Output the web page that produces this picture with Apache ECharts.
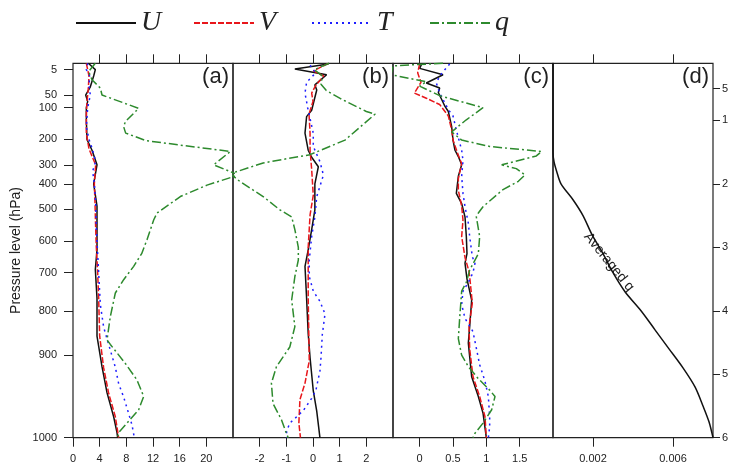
<!DOCTYPE html>
<html>
<head>
<meta charset="utf-8">
<script src="https://cdn.jsdelivr.net/npm/echarts@6/dist/echarts.min.js"></script>
<style>
  html, body { margin: 0; padding: 0; background: #fff; }
  #chart { width: 736px; height: 466px; }
</style>
</head>
<body>
<div id="chart"></div>
<script>
// model levels (1 = top, 60 = surface) with pressure labels on the left axis
const pressureLevels = [2, 6, 8, 13, 17, 20, 24, 29, 34, 40, 47, 60];
const pressureLabels = ["5", "50", "100", "200", "300", "400", "500", "600", "700", "800", "900", "1000"];
const levelTicks = [5, 10, 20, 30, 40, 50, 60];

// x ticks of each panel
const ticksA = [0, 4, 8, 12, 16, 20];
const ticksB = [-2, -1, 0, 1, 2];
const ticksC = [0, 0.5, 1, 1.5];
const ticksD = [0.002, 0.006];

// profiles as [value, level]
// panel (a)
const aU = [[2.3,1],[3.35,2],[3.1,3],[2.6,4.7],[1.9,6],[2.2,7],[2.0,8],[2.0,10],[2.1,13],[2.85,14.7],[3.6,17],[3.1,20],[3.6,23.5],[3.6,27],[3.6,30.4],[3.35,33.5],[3.6,38],[3.6,44],[4.35,48.8],[5.1,52.9],[6.1,56.7],[6.6,59.2],[6.7,60]];
const aV = [[2.0,1],[2.2,2],[2.4,3],[2.3,5],[2.1,7],[2.0,9],[2.0,12],[2.4,14.5],[3.4,17],[3.2,20],[3.3,23],[3.4,27],[3.5,30],[3.7,34],[3.85,38],[4.0,44],[4.6,49],[5.35,53],[6.35,56.7],[6.85,60]];
const aT = [[2.2,1],[2.0,2],[2.5,3],[2.4,4.5],[2.6,6],[2.2,8],[2.0,11],[2.4,13],[2.9,14.5],[3.4,16.5],[2.95,18],[3.2,20],[3.4,23],[3.5,27],[3.7,31],[3.9,35],[4.1,39],[4.6,42.6],[5.1,44.4],[5.6,46.2],[6.35,48.9],[6.85,51.5],[7.6,53.6],[8.35,56.2],[8.85,58],[9.2,60]];
const aQ = [[3.35,1],[2.35,2.3],[2.85,3.6],[4.1,4.9],[4.35,6],[9.85,8.1],[7.85,10.2],[7.6,11],[7.9,12],[11,13.2],[23.6,14.9],[21.1,17],[24.85,18.6],[20.1,20.2],[16.1,22],[12.6,24.6],[12.1,25.7],[11.1,28.8],[10.3,31],[9.1,33],[7.6,35.1],[6.35,37.2],[5.6,40.9],[5.1,44.6],[5.6,45.3],[7.85,48.3],[9.6,50.9],[10.6,53.5],[9.85,55.6],[8.1,57.7],[6.85,59.2],[6.7,60]];
// panel (b)
const bU = [[0.58,1.1],[-0.68,1.9],[0.51,2.8],[0.07,4.4],[0.14,5.2],[-0.05,8.4],[-0.24,9.4],[-0.3,12],[-0.18,14.7],[-0.05,15.8],[0.2,17.3],[0.07,20],[0.07,24.1],[-0.05,27.2],[-0.18,30.4],[-0.3,33],[-0.24,38],[-0.18,43.6],[-0.11,47.4],[0.01,52.6],[0.14,55.8],[0.26,60]];
const bV = [[0.58,1],[0.01,2.2],[0.4,3],[0.1,4.5],[-0.05,5.7],[0.0,7],[-0.15,9],[-0.11,12],[-0.11,14.7],[-0.05,17.7],[0.01,21.8],[-0.11,24.9],[-0.18,30],[-0.18,38],[-0.14,47.9],[-0.3,51.4],[-0.49,54],[-0.53,57.7],[-0.47,60]];
const bT = [[-0.11,1.3],[0.1,2.5],[-0.24,4],[-0.3,5.7],[-0.2,8],[0.01,12],[0.01,14.1],[0.26,16.5],[0.39,18.6],[0.26,20.4],[0.14,22],[0.07,25.2],[-0.05,28.3],[-0.14,32],[-0.14,34.6],[0.01,36.9],[0.26,38.5],[0.45,40.5],[0.35,43.7],[0.3,47.4],[0.26,49.5],[0.11,52.5],[-0.05,53.8],[-0.36,55.7],[-0.61,56.7],[-0.87,57.7],[-0.99,59],[-0.99,60]];
const bQ = [[0.6,1],[0.05,2],[0.35,3],[0.3,4.3],[0.5,5.3],[1.0,6.5],[2.0,8.6],[2.33,9],[1.2,13.1],[-0.11,15.4],[-1.87,16.7],[-3.1,18.4],[-2.75,19.6],[-1.87,22],[-1.24,24.1],[-0.8,25.2],[-0.68,27.2],[-0.55,30],[-0.55,32],[-0.68,34.6],[-0.8,38.3],[-0.68,42.5],[-0.87,45.7],[-1.37,48.8],[-1.56,51.4],[-1.5,54.6],[-1.18,57.2],[-1.0,59.3],[-0.93,60]];
// panel (c)
const cU = [[0.03,1.1],[0.0,1.8],[0.35,2.8],[0.1,4.1],[0.3,4.9],[0.28,5.6],[0.38,7.8],[0.43,8.6],[0.48,11],[0.5,13.1],[0.53,14.7],[0.58,15.7],[0.63,17],[0.58,18.8],[0.55,21.5],[0.63,23.1],[0.68,25.2],[0.7,28.3],[0.71,31],[0.68,32.5],[0.71,35],[0.78,38.3],[0.75,42.5],[0.73,45.1],[0.78,50.4],[0.88,53.5],[0.95,56.1],[1.0,60]];
const cV = [[0.0,1.1],[-0.03,2.5],[0.02,4],[-0.08,5.7],[0.1,6.5],[0.3,7.5],[0.43,9.3],[0.48,11.5],[0.5,13.1],[0.58,15.5],[0.63,16.8],[0.58,19.2],[0.58,21],[0.63,23.5],[0.65,25.7],[0.63,28.3],[0.68,31.6],[0.74,33.8],[0.75,34.6],[0.79,38.8],[0.74,42.5],[0.75,46],[0.8,50.4],[0.9,53.5],[0.98,56.7],[1.0,60]];
const cT = [[0.45,1.1],[0.3,3.0],[0.25,4.1],[0.3,5.7],[0.43,8.3],[0.5,9.3],[0.55,11.5],[0.63,14.7],[0.65,16.3],[0.63,18.8],[0.65,21.5],[0.68,23.6],[0.73,26.2],[0.75,28.3],[0.79,31.5],[0.83,32.5],[0.8,34],[0.73,35.5],[0.65,36.9],[0.63,39],[0.68,41.2],[0.8,43.3],[0.85,45.9],[0.9,48.5],[0.98,51.1],[1.03,53.5],[1.05,56.7],[1.05,58.3],[1.03,60]];
const cQ = [[0.35,1],[-0.4,1.4],[-0.43,2.8],[0.1,3.9],[0.0,4.6],[0.3,6.1],[0.95,8],[0.7,9.9],[0.48,11.8],[0.63,13.1],[1.05,14.1],[1.83,14.9],[1.75,15.6],[1.23,17],[1.45,17.6],[1.58,18.6],[1.48,19.6],[1.25,20.9],[0.95,23.6],[0.88,24.6],[0.85,25.2],[0.9,28.3],[0.88,31],[0.75,33.6],[0.7,35.5],[0.63,36.9],[0.6,41.2],[0.58,44.4],[0.63,47],[0.73,48.8],[0.88,50.7],[1.05,52.5],[1.13,53.5],[1.08,55.6],[0.95,57.7],[0.83,59.3],[0.8,60]];
// panel (d): averaged q
const dQ = [[0,1],[0,15],[0.00005,16.5],[0.00018,18],[0.0004,20],[0.001,22.5],[0.0015,25],[0.00195,28],[0.0025,31],[0.003,34],[0.0036,37],[0.0044,40],[0.0051,43],[0.0058,46],[0.0065,49],[0.0071,52],[0.0075,55],[0.0078,57.5],[0.008,60]];

const FONT = "Liberation Sans";
const GRID_LEFT = [73, 233, 393, 553];
const PANEL_W = 160;
const TOP = 63.3;
const PLOT_H = 374.4;

const styles = {
  U: { color: "#111", type: "solid" },
  V: { color: "#e8161b", type: [6, 2] },
  T: { color: "#1e1eff", type: [2, 4] },
  q: { color: "#2d8a2d", type: [9, 3, 2, 3] },
};

function profileSeries(name, data, panel) {
  const s = styles[name];
  return {
    name: name,
    type: "line",
    xAxisIndex: panel * 2,
    yAxisIndex: panel,
    data: data,
    symbol: "none",
    clip: false,
    animation: false,
    lineStyle: { color: s.color, type: s.type, width: 1.5 },
    itemStyle: { color: s.color },
  };
}

function xAxes(panel, min, max, ticks, topTicks) {
  const base = {
    type: "value",
    gridIndex: panel,
    min: min,
    max: max,
    axisLine: { show: false, onZero: false },
    splitLine: { show: false },
  };
  return [
    Object.assign({}, base, {
      position: "bottom",
      axisTick: { show: true, length: 9, customValues: ticks, lineStyle: { color: "#222" } },
      axisLabel: { show: true, customValues: ticks, margin: 16, fontSize: 11, color: "#222", fontFamily: FONT },
    }),
    Object.assign({}, base, {
      position: "top",
      axisTick: { show: true, length: 9, customValues: topTicks, lineStyle: { color: "#222" } },
      axisLabel: { show: false },
    }),
  ];
}

const levelAxisBase = {
  type: "value",
  min: 1,
  max: 60,
  inverse: true,
  axisLine: { show: false, onZero: false },
  splitLine: { show: false },
};

const option = {
  backgroundColor: "#fff",
  animation: false,
  legend: {
    left: 75,
    top: 8,
    padding: 0,
    itemWidth: 60,
    itemHeight: 14,
    itemGap: 30,
    data: ["U", "V", "T", "q"],
    itemStyle: { opacity: 0 },
    textStyle: { fontFamily: "Liberation Serif", fontStyle: "italic", fontSize: 28, color: "#222", width: 22, lineHeight: 30 },
  },
  grid: GRID_LEFT.map((l) => ({
    left: l,
    top: TOP,
    width: PANEL_W,
    height: PLOT_H,
    show: true,
    borderColor: "#222",
    borderWidth: 1.2,
    backgroundColor: "transparent",
  })),
  xAxis: [
    ...xAxes(0, 0, 24, ticksA, ticksA.slice(1)),
    ...xAxes(1, -3, 3, ticksB, ticksB),
    ...xAxes(2, -0.4, 2, ticksC, ticksC),
    ...xAxes(3, 0, 0.008, ticksD, ticksD),
  ],
  yAxis: [
    Object.assign({}, levelAxisBase, {
      gridIndex: 0,
      position: "left",
      name: "Pressure level (hPa)",
      nameLocation: "middle",
      nameRotate: 90,
      nameGap: 50,
      nameTextStyle: { fontSize: 14, color: "#222", fontFamily: FONT },
      axisTick: { show: true, length: 9, customValues: pressureLevels, lineStyle: { color: "#222" } },
      axisLabel: {
        show: true,
        customValues: pressureLevels,
        margin: 16,
        fontSize: 11,
        color: "#222",
        fontFamily: FONT,
        formatter: (v) => pressureLabels[pressureLevels.indexOf(v)],
      },
    }),
    Object.assign({}, levelAxisBase, { gridIndex: 1, axisTick: { show: false }, axisLabel: { show: false } }),
    Object.assign({}, levelAxisBase, { gridIndex: 2, axisTick: { show: false }, axisLabel: { show: false } }),
    Object.assign({}, levelAxisBase, {
      gridIndex: 3,
      position: "right",
      axisTick: { show: true, length: 7, customValues: levelTicks, lineStyle: { color: "#222" } },
      axisLabel: {
        show: true,
        customValues: levelTicks,
        margin: 9,
        fontSize: 11,
        color: "#222",
        fontFamily: FONT,
        width: 8,
        overflow: "truncate",
        ellipsis: "",
      },
    }),
  ],
  series: [
    profileSeries("U", aU, 0),
    profileSeries("V", aV, 0),
    profileSeries("T", aT, 0),
    profileSeries("q", aQ, 0),
    profileSeries("U", bU, 1),
    profileSeries("V", bV, 1),
    profileSeries("T", bT, 1),
    profileSeries("q", bQ, 1),
    profileSeries("U", cU, 2),
    profileSeries("V", cV, 2),
    profileSeries("T", cT, 2),
    profileSeries("q", cQ, 2),
    {
      name: "Averaged q",
      type: "line",
      xAxisIndex: 6,
      yAxisIndex: 3,
      data: dQ,
      symbol: "none",
      smooth: 0.3,
      clip: false,
      lineStyle: { color: "#111", width: 1.5 },
    },
  ],
  graphic: [
    ...["(a)", "(b)", "(c)", "(d)"].map((t, i) => ({
      type: "text",
      x: GRID_LEFT[i] + PANEL_W - 4,
      y: TOP + 3,
      style: { text: t, fontSize: 22, fontFamily: FONT, fill: "#222", align: "right", verticalAlign: "top" },
    })),
    {
      type: "text",
      x: 609,
      y: 262,
      rotation: -0.89,
      style: { text: "Averaged q", fontSize: 14, fontFamily: FONT, fill: "#222", align: "center", verticalAlign: "middle" },
    },
  ],
};

const chart = echarts.init(document.getElementById("chart"), null, { renderer: "canvas" });
chart.setOption(option);
</script>
</body>
</html>
